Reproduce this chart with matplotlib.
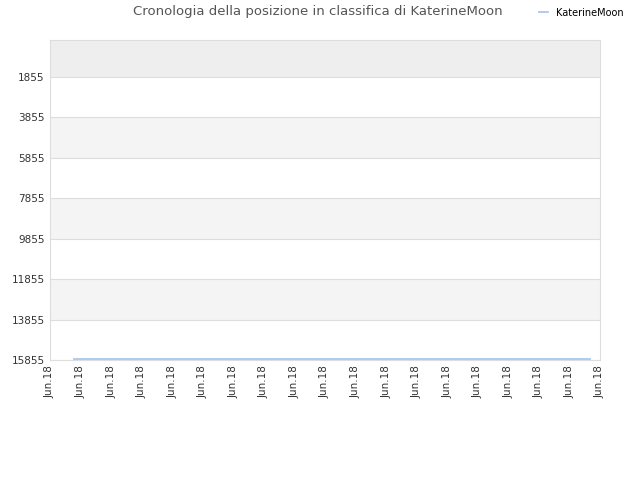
import matplotlib
matplotlib.use("Agg")
import matplotlib.pyplot as plt

TITLE = "Cronologia della posizione in classifica di KaterineMoon"
SERIES = "KaterineMoon"
X_LABELS = ["Jun.18"] * 19
LINE_X = [0.78, 17.67]
LINE_RANK = [15800, 15800]
Y_TICKS = [1855, 3855, 5855, 7855, 9855, 11855, 13855, 15855]
Y_TOP = 25

fig = plt.figure(figsize=(6.4, 4.8), dpi=100)
ax = fig.add_axes([50 / 640, 1 - 360 / 480, 550 / 640, 320 / 480])

ax.set_xlim(0, len(X_LABELS) - 1)
ax.set_ylim(Y_TICKS[-1], Y_TOP)

# alternating bands
edges = [Y_TOP] + Y_TICKS
for i in range(len(edges) - 1):
    if i == 0:
        c = "#eeeeee"
    elif i % 2 == 0:
        c = "#f4f4f4"
    else:
        c = "#ffffff"
    ax.axhspan(edges[i], edges[i + 1], color=c, lw=0, zorder=0)
for y in Y_TICKS:
    ax.axhline(y, color="#dddddd", lw=0.8, zorder=1)

ax.plot(LINE_X, LINE_RANK, color="#a6c8f0", lw=1.3, zorder=3, label=SERIES)

ax.set_yticks(Y_TICKS)
ax.set_yticklabels([str(v) for v in Y_TICKS], fontsize=7.5, color="#333333")
ax.set_xticks(range(len(X_LABELS)))
ax.set_xticklabels(X_LABELS, rotation=90, fontsize=7.5, color="#333333")
ax.tick_params(length=0, pad=4)
for s in ax.spines.values():
    s.set_color("#dddddd")

fig.text(318 / 640, 1 - 12 / 480, TITLE, ha="center", va="center", fontsize=9.5, color="#555555")
leg = ax.legend(loc="upper right", bbox_to_anchor=(632 / 640, 1 + 1 / 480), bbox_transform=fig.transFigure,
                frameon=False, fontsize=7, handlelength=0.9, handletextpad=0.8)

fig.savefig("out.png", dpi=100)
